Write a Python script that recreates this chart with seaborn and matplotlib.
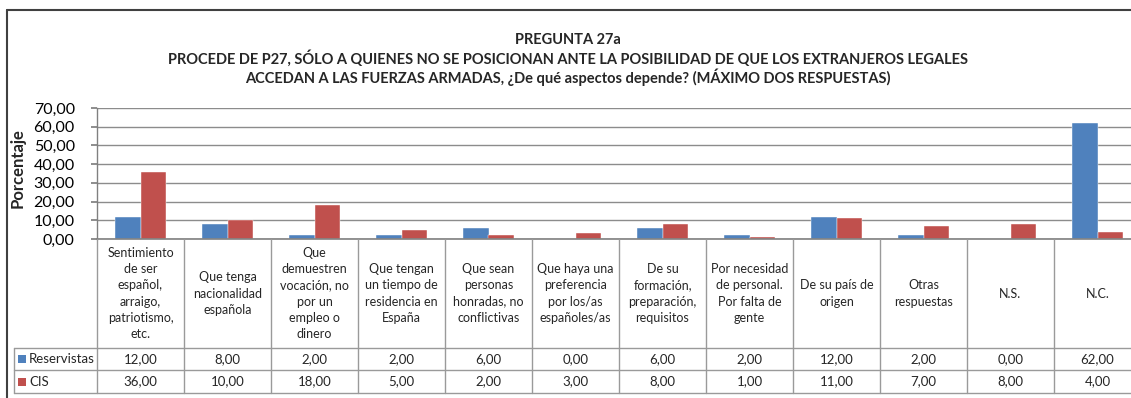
import numpy as np
import pandas as pd
import matplotlib
matplotlib.use("Agg")
import matplotlib.pyplot as plt
from matplotlib.lines import Line2D
from matplotlib.patches import Rectangle
from matplotlib.transforms import blended_transform_factory
import seaborn as sns

categories = [
    "Sentimiento\nde ser\nespañol,\narraigo,\npatriotismo,\netc.",
    "Que tenga\nnacionalidad\nespañola",
    "Que\ndemuestren\nvocación, no\npor un\nempleo o\ndinero",
    "Que tengan\nun tiempo de\nresidencia en\nEspaña",
    "Que sean\npersonas\nhonradas, no\nconflictivas",
    "Que haya una\npreferencia\npor los/as\nespañoles/as",
    "De su\nformación,\npreparación,\nrequisitos",
    "Por necesidad\nde personal.\nPor falta de\ngente",
    "De su país de\norigen",
    "Otras\nrespuestas",
    "N.S.",
    "N.C.",
]
reservistas = [12.0, 8.0, 2.0, 2.0, 6.0, 0.0, 6.0, 2.0, 12.0, 2.0, 0.0, 62.0]
cis = [36.0, 10.0, 18.0, 5.0, 2.0, 3.0, 8.0, 1.0, 11.0, 7.0, 8.0, 4.0]
series_names = ["Reservistas", "CIS"]
series_colors = ["#4F81BD", "#C0504D"]
y_ticks = [0, 10, 20, 30, 40, 50, 60, 70]

title_lines = [
    "PREGUNTA 27a",
    "PROCEDE DE P27, SÓLO A QUIENES NO SE POSICIONAN ANTE LA POSIBILIDAD DE QUE LOS EXTRANJEROS LEGALES",
    "ACCEDAN A LAS FUERZAS ARMADAS, ¿De qué aspectos depende? (MÁXIMO DOS RESPUESTAS)",
]

sns.set_theme(style="white")
plt.rcParams["font.family"] = ["Lato", "DejaVu Sans"]

W, H = 1131, 398
fig = plt.figure(figsize=(W / 100, H / 100), dpi=100)

def fx(px):
    return px / W

def fy(py):
    return 1 - py / H

ax_left, ax_right, ax_top, ax_bottom = 97, 1141, 108, 239
ax = fig.add_axes([fx(ax_left), fy(ax_bottom), fx(ax_right - ax_left), (ax_bottom - ax_top) / H])

idx = list(range(len(categories)))
df = pd.DataFrame({
    "cat": idx * 2,
    "serie": [series_names[0]] * len(idx) + [series_names[1]] * len(idx),
    "valor": reservistas + cis,
})
sns.barplot(data=df, x="cat", y="valor", hue="serie", order=idx,
            hue_order=series_names, palette=series_colors, width=0.58,
            saturation=1, edgecolor="white", linewidth=0.3, legend=False, ax=ax)

ax.set_xlim(-0.5, len(categories) - 0.5)
ax.set_ylim(0, 70)
ax.set_yticks(y_ticks)
ax.set_yticklabels([f"{v:.2f}".replace(".", ",") for v in y_ticks], fontsize=11.5, color="#000000")
ax.set_xticks([])
ax.set_xlabel("")
ax.set_ylabel("")
ax.yaxis.grid(True, color="#8c8c8c", linewidth=1.0)
ax.set_axisbelow(True)
for s in ["top", "right"]:
    ax.spines[s].set_visible(False)
ax.spines["left"].set_color("#808080")
ax.spines["bottom"].set_color("#808080")
ax.spines["left"].set_linewidth(1.0)
ax.spines["bottom"].set_linewidth(1.2)
ax.tick_params(axis="y", left=True, length=4, color="#808080", pad=12)

fig.text(fx(18), fy(168), "Porcentaje", rotation=90, ha="center", va="center",
         fontsize=12, fontweight="bold")

# Title
for line, py in zip(title_lines, [40, 58, 77]):
    fig.text(fx(568), fy(py), line, ha="center", va="center", fontsize=10.5, fontweight="bold")

# Data table under the axis
tr = blended_transform_factory(ax.transData, fig.transFigure)
grid_col = "#9a9a9a"
row_top, row_mid, row_bot = 348, 370, 393
tbl_left = 14

def fline(x0, y0, x1, y1, transform=fig.transFigure, color=grid_col, lw=1.0):
    fig.add_artist(Line2D([x0, x1], [y0, y1], transform=transform, color=color,
                          linewidth=lw, clip_on=False))

for b in np.arange(-0.5, len(categories) + 0.5, 1.0):
    fline(b, fy(ax_bottom), b, fy(row_bot), transform=tr)
for py in [row_top, row_mid, row_bot]:
    fline(fx(tbl_left), fy(py), fx(ax_right), fy(py))
fline(fx(tbl_left), fy(row_top), fx(tbl_left), fy(row_bot))

for i, lab in enumerate(categories):
    fig.text(i, fy((ax_bottom + row_top) / 2), lab, transform=tr, ha="center", va="center",
             fontsize=9, linespacing=1.42)
    fig.text(i, fy((row_top + row_mid) / 2), f"{reservistas[i]:.2f}".replace(".", ","),
             transform=tr, ha="center", va="center", fontsize=9.5)
    fig.text(i, fy((row_mid + row_bot) / 2), f"{cis[i]:.2f}".replace(".", ","),
             transform=tr, ha="center", va="center", fontsize=9.5)

for name, col, (ya, yb) in zip(series_names, series_colors, [(row_top, row_mid), (row_mid, row_bot)]):
    yc = (ya + yb) / 2
    fig.add_artist(Rectangle((fx(18), fy(yc + 4)), fx(8), 8 / H, transform=fig.transFigure,
                             facecolor=col, edgecolor="none"))
    fig.text(fx(29), fy(yc), name, ha="left", va="center", fontsize=9.5)

# Chart frame
fline(fx(7), fy(10), fx(1131), fy(10), color="#404040", lw=1.5)
fline(fx(7), fy(10), fx(7), fy(398), color="#404040", lw=1.5)

fig.savefig("out.png", dpi=100)
